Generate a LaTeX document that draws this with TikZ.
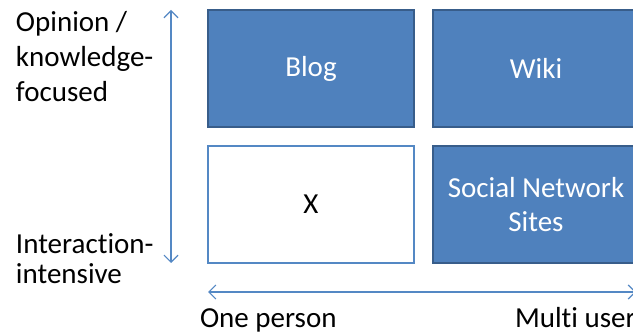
\documentclass[tikz,border=0pt]{standalone}
\usepackage{fontspec}
\setmainfont[Ligatures=CommonOff]{Carlito}
\usetikzlibrary{arrows.meta}
\definecolor{boxblue}{RGB}{79,129,189}
\definecolor{boxedge}{RGB}{56,93,138}
\definecolor{axisblue}{RGB}{84,136,196}
\tikzset{
  cell/.style={draw=boxedge, line width=1.8pt, fill=boxblue, text=white,
    minimum width=206pt, minimum height=117pt, inner sep=0pt, outer sep=0pt,
    anchor=north west, align=center, font=\fontsize{29}{34}\selectfont},
  emptycell/.style={cell, draw=axisblue, fill=white, text=black},
  axis/.style={draw=axisblue, line width=1.2pt,
    {Straight Barb[length=7pt,width=14pt]}-{Straight Barb[length=7pt,width=14pt]}},
  lbl/.style={inner sep=0pt, outer sep=0pt, align=left, text=black,
    font=\fontsize{29}{35}\selectfont}
}
\begin{document}
\begin{tikzpicture}[x=1pt,y=-1pt]
\useasboundingbox (0,0) rectangle (633,334);
% quadrant cells
\node[cell] (blog) at (208,10) {Blog};
\node[cell] (wiki) at (433,10) {Wiki};
\node[emptycell] (x) at (208,146) {X};
\node[cell] (sns) at (433,146) {Social Network\\Sites};
% axes
\coordinate (vtop) at (171,10);
\coordinate (vbot) at (171,263);
\coordinate (hleft) at (208,292);
\coordinate (hright) at (636,292);
\draw[axis] (vbot) -- (vtop);
\draw[axis] (hleft) -- (hright);
% axis labels (base anchor = baseline of the last line)
\node[lbl, anchor=base west] (top) at (16,102) {Opinion /\\knowledge-\\focused};
\node[lbl, anchor=base west, font=\fontsize{29}{31}\selectfont] (bottom) at (16,284) {Interaction-\\intensive};
\node[lbl, anchor=base west] (one) at (200,327) {One person};
\node[lbl, anchor=base west] (multi) at (515,327) {Multi user};
\end{tikzpicture}
\end{document}
